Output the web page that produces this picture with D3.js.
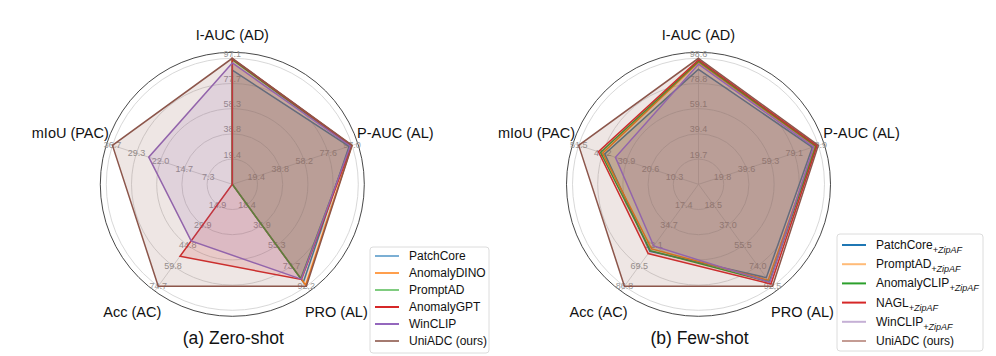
<!DOCTYPE html>
<meta charset="utf-8">
<head>
<style>
body { margin: 0; background: #fff; }
text { font-family: "Liberation Sans", Arial, sans-serif; }
</style>
</head>
<script src="https://cdn.jsdelivr.net/npm/d3@7"></script>
<div id="chart"></div>
<script>

// axes, clockwise from the top
var axisNames = ["I-AUC (AD)", "P-AUC (AL)", "PRO (AL)", "Acc (AC)", "mIoU (PAC)"];

// ---- (a) zero-shot ----
var zeroMax = [97.1, 97.0, 92.2, 74.7, 36.7];
var zeroTicks = [
  ["19.4", "38.8", "58.3", "77.7", "97.1"],
  ["19.4", "38.8", "58.2", "77.6", "97.0"],
  ["18.4", "36.9", "55.3", "73.7", "92.2"],
  ["14.9", "29.9", "44.8", "59.8", "74.7"],
  ["7.3", "14.7", "22.0", "29.3", "36.7"]
];
var zeroNames = ["PatchCore", "AnomalyDINO", "PromptAD", "AnomalyGPT", "WinCLIP", "UniADC (ours)"];
var zeroValues = [
  [88.0, 94.5, 88.5, 0, 0],
  [96.5, 96.8, 91.3, 0, 0],
  [96.0, 95.8, 85.3, 0, 0],
  [96.8, 96.5, 86.0, 52.8, 0],
  [93.5, 95.5, 85.8, 41.5, 25.6],
  [97.1, 97.0, 92.2, 74.7, 36.7]
];

// ---- (b) few-shot ----
var fewMax = [98.6, 98.9, 92.5, 86.8, 51.5];
var fewTicks = [
  ["19.7", "39.4", "59.1", "78.8", "98.6"],
  ["19.8", "39.6", "59.3", "79.1", "98.9"],
  ["18.5", "37.0", "55.5", "74.0", "92.5"],
  ["17.4", "34.7", "52.1", "69.5", "86.8"],
  ["10.3", "20.6", "30.9", "41.2", "51.5"]
];
var fewNames = ["PatchCore", "PromptAD", "AnomalyCLIP", "NAGL", "WinCLIP", "UniADC (ours)"];
var fewValues = [
  [90.0, 94.0, 84.7, 57.0, 40.3],
  [95.5, 96.3, 87.0, 55.0, 41.2],
  [96.4, 97.0, 88.5, 56.5, 42.1],
  [97.3, 97.8, 90.5, 59.0, 43.0],
  [94.0, 95.0, 89.0, 52.5, 35.7],
  [98.6, 98.9, 92.5, 86.8, 51.5]
];

var lineColors = ["#1f77b4", "#ff7f0e", "#2ca02c", "#d62728", "#9467bd", "#8c564b"];
var zeroLegendColors = ["#7bafd4", "#ff9f4d", "#80cc80", "#d62728", "#9467bd", "#a47a70"];
var fewLegendColors = ["#1f77b4", "#ffbb78", "#2ca02c", "#d62728", "#c5b0d5", "#c49c94"];

var W = 996, H = 356;
var R = 126, frameR = 132;

var svg = d3.select("#chart").append("svg")
  .attr("width", W).attr("height", H);

// position of each axis label, relative to the centre
var titleOffset = [[0, -149], [163, -51], [104, 128], [-100, 128], [-162, -51]];

function angle(i) { return (90 - 72 * i) * Math.PI / 180; }

function drawRadar(cx, cy, maxes, ticks, values, caption) {
  var g = svg.append("g").attr("transform", "translate(" + cx + "," + cy + ")");

  var scales = maxes.map(function(m) {
    return d3.scaleLinear().domain([0, m]).range([0, R]);
  });
  function pt(i, v) {
    var r = scales[i](v), a = angle(i);
    return [r * Math.cos(a), -r * Math.sin(a)];
  }

  // grid rings
  g.selectAll(".ring").data([0.2, 0.4, 0.6, 0.8, 1.0]).enter()
    .append("circle")
      .attr("r", function(d) { return d * R; })
      .attr("fill", "none")
      .attr("stroke", "#d4d4d4")
      .attr("stroke-width", 0.9);

  // spokes
  g.selectAll(".spoke").data(maxes).enter()
    .append("line")
      .attr("x1", 0).attr("y1", 0)
      .attr("x2", function(d, i) { return frameR * Math.cos(angle(i)); })
      .attr("y2", function(d, i) { return -frameR * Math.sin(angle(i)); })
      .attr("stroke", "#d4d4d4")
      .attr("stroke-width", 0.9);

  // outer frame
  g.append("circle")
    .attr("r", frameR)
    .attr("fill", "none")
    .attr("stroke", "#333")
    .attr("stroke-width", 0.9);

  // tick labels along each axis
  ticks.forEach(function(tl, i) {
    tl.forEach(function(t, k) {
      var p = pt(i, maxes[i] * (k + 1) / 5);
      g.append("text")
        .attr("x", p[0])
        .attr("y", p[1] + (i == 0 ? -4.5 : 0))
        .attr("text-anchor", "middle")
        .attr("dominant-baseline", "central")
        .style("font-size", "9px")
        .style("fill", "#969696")
        .text(t);
    });
  });

  var line = d3.line()
    .x(function(d) { return d[0]; })
    .y(function(d) { return d[1]; })
    .curve(d3.curveLinearClosed);

  values.forEach(function(vals, s) {
    var pts = vals.map(function(v, i) { return pt(i, v); });
    g.append("path")
      .attr("d", line(pts))
      .attr("fill", lineColors[s])
      .attr("fill-opacity", 0.15)
      .attr("stroke", lineColors[s])
      .attr("stroke-width", 1.5)
      .attr("stroke-linejoin", "miter");
  });

  // axis names
  axisNames.forEach(function(n, i) {
    g.append("text")
      .attr("x", titleOffset[i][0])
      .attr("y", titleOffset[i][1])
      .attr("text-anchor", "middle")
      .attr("dominant-baseline", "central")
      .style("font-size", "14.5px")
      .style("fill", "#111")
      .text(n);
  });

  g.append("text")
    .attr("x", 1)
    .attr("y", 154)
    .attr("text-anchor", "middle")
    .attr("dominant-baseline", "central")
    .style("font-size", "17.5px")
    .style("fill", "#111")
    .text(caption);
}

drawRadar(232.3, 184.3, zeroMax, zeroTicks, zeroValues, "(a) Zero-shot");
drawRadar(698.5, 184.3, fewMax, fewTicks, fewValues, "(b) Few-shot");

// ---- legends ----
function drawLegend(x, y, w, h, names, colors, step, sub) {
  var lg = svg.append("g").attr("transform", "translate(" + x + "," + y + ")");
  lg.append("rect")
    .attr("width", w).attr("height", h)
    .attr("rx", 3)
    .attr("fill", "#fff")
    .attr("fill-opacity", 0.8)
    .attr("stroke", "#dcdcdc");
  names.forEach(function(n, i) {
    var yy = 9 + i * step + (sub ? 2 : 0);
    lg.append("line")
      .attr("x1", 5).attr("x2", 29)
      .attr("y1", yy).attr("y2", yy)
      .attr("stroke", colors[i])
      .attr("stroke-width", 2);
    var t = lg.append("text")
      .attr("x", 39)
      .attr("y", yy + 4)
      .style("font-size", "12px")
      .style("fill", "#111")
      .text(n);
    if (sub && i < names.length - 1) {
      t.append("tspan")
        .attr("dy", 4)
        .style("font-size", "9px")
        .style("font-style", "italic")
        .text("+ZipAF");
    }
  });
}

drawLegend(370, 247, 119, 106, zeroNames, zeroLegendColors, 17, false);
drawLegend(837, 234, 146, 117, fewNames, fewLegendColors, 19.2, true);

</script>
